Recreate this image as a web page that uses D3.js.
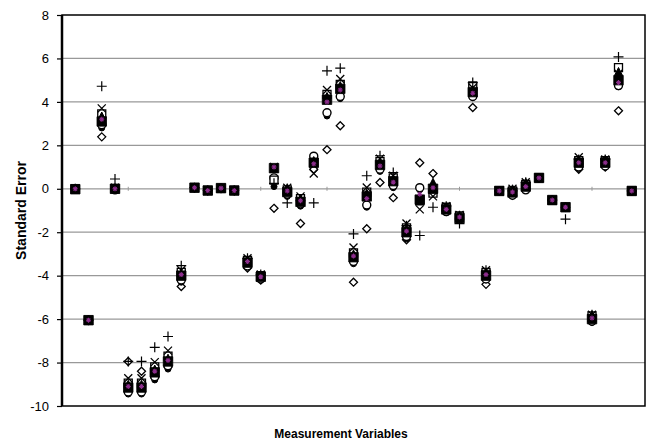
<!DOCTYPE html>
<html><head><meta charset="utf-8">
<script src="https://cdn.jsdelivr.net/npm/d3@7"></script>
<style>body{margin:0;background:#fff}svg{display:block}</style>
</head><body>
<svg id="c" width="650" height="442"></svg>
<script>
const categories = [1,2,3,4,5,6,7,8,9,10,11,12,13,14,15,16,17,18,19,20,21,22,23,24,25,26,27,28,29,30,31,32,33,34,35,36,37,38,39,40,41,42,43];
const yTicks = [-10,-8,-6,-4,-2,0,2,4,6,8];
const plusVals = [0,-6.05,4.72,0.45,-7.95,-7.95,-7.3,-6.8,-3.54,0.05,-0.08,0.03,-0.08,-3.2,-3.95,0.25,-0.65,-0.55,-0.65,5.43,5.55,-2.08,0.6,1.52,0.75,-1.7,-2.15,-0.85,-0.8,-1.6,4.89,-3.75,-0.1,-0.1,0.3,0.5,-0.52,-1.4,1.35,-5.8,1.35,6.07,-0.1];
const crossVals = [0,-6.05,3.7,0.05,-8.72,-8.72,-7.98,-7.45,-3.75,0.05,-0.08,0.03,-0.08,-3.2,-3.95,1.0,0.05,-0.35,0.7,4.55,5.05,-2.7,0.06,1.38,0.6,-1.6,-0.95,-0.35,-0.8,-1.2,4.65,-3.75,-0.1,0.0,0.3,0.5,-0.52,-0.85,1.45,-5.8,1.35,5.3,-0.1];
const openSquareVals = [0,-6.05,3.45,0.0,-8.95,-8.95,-8.2,-7.7,-3.85,0.05,-0.08,0.03,-0.08,-3.3,-4.0,0.4,-0.05,-0.45,1.2,4.35,4.8,-2.95,-0.15,1.25,0.5,-1.8,-0.55,-0.2,-0.85,-1.25,4.74,-3.85,-0.1,-0.1,0.2,0.5,-0.52,-0.85,1.3,-5.85,1.3,5.58,-0.1];
const triangleVals = [0,-6.05,3.35,0.05,-9.0,-9.0,-8.3,-7.8,-3.9,0.05,-0.08,0.03,-0.08,-3.3,-4.0,0.95,0.05,-0.45,1.3,4.25,4.75,-3.0,-0.2,1.2,0.45,-1.8,-0.5,0.3,-0.85,-1.2,4.55,-3.85,-0.1,0.0,0.3,0.5,-0.52,-0.85,1.35,-5.8,1.35,5.4,-0.1];
const magentaVals = [0,-6.05,3.2,0.0,-9.1,-9.1,-8.4,-7.9,-3.95,0.05,-0.08,0.03,-0.08,-3.35,-4.05,1.0,-0.1,-0.55,1.15,4.0,4.55,-3.1,-0.45,1.05,0.3,-1.95,-0.25,0.05,-0.95,-1.3,4.4,-3.95,-0.1,-0.15,0.1,0.5,-0.52,-0.85,1.2,-5.95,1.2,4.89,-0.1];
const filledSquareVals = [-0.02,-6.05,3.1,0.0,-9.15,-9.15,-8.45,-7.95,-4.0,0.05,-0.08,0.03,-0.08,-3.4,-4.05,0.95,-0.15,-0.6,1.2,4.1,4.6,-3.15,-0.35,1.1,0.35,-2.0,-0.5,0.0,-0.95,-1.35,4.45,-4.0,-0.1,-0.17,0.1,0.5,-0.52,-0.85,1.2,-6.0,1.2,5.0,-0.1];
const circleVals = [0,-6.05,2.95,-0.05,-9.35,-9.35,-8.65,-8.15,-4.2,0.05,-0.08,0.03,-0.08,-3.55,-4.15,0.5,-0.25,-0.7,1.5,3.5,4.25,-3.35,-0.75,0.9,0.15,-2.2,0.05,-0.1,-1.05,-1.4,4.25,-4.15,-0.1,-0.3,-0.05,0.5,-0.52,-0.85,1.0,-6.1,1.05,4.75,-0.1];
const filledCircleVals = [0,-6.05,2.8,-0.05,-9.45,-9.45,-8.8,-8.3,-4.3,0.05,-0.08,0.03,-0.08,-3.6,-4.2,0.1,-0.35,-0.8,1.4,3.35,4.15,-3.45,-0.85,0.8,0.05,-2.3,-0.05,-0.15,-1.1,-1.45,4.2,-4.2,-0.1,-0.3,-0.05,0.5,-0.52,-0.85,0.95,-6.15,1.0,4.7,-0.1];
const diamondVals = [0,-6.05,2.39,0.0,-7.95,-8.4,-8.7,-8.2,-4.5,0.05,-0.08,0.03,-0.08,-3.65,-4.2,-0.9,-0.2,-1.6,0.9,1.8,2.9,-4.3,-1.84,0.29,-0.41,-2.35,1.2,0.7,-1.0,-1.35,3.74,-4.4,-0.1,-0.3,0.0,0.5,-0.52,-0.85,0.9,-6.1,1.0,3.59,-0.1];

// custom symbol shapes (size = side length in px)
const shapes = {
  plus:{draw(p,s){const r=s/2;p.moveTo(-r,0);p.lineTo(r,0);p.moveTo(0,-r);p.lineTo(0,r);}},
  cross:{draw(p,s){const r=s/2;p.moveTo(-r,-r);p.lineTo(r,r);p.moveTo(-r,r);p.lineTo(r,-r);}},
  square:{draw(p,s){const r=s/2;p.rect(-r,-r,s,s);}},
  triangle:{draw(p,s){const r=s/2;p.moveTo(0,-r);p.lineTo(r,r);p.lineTo(-r,r);p.closePath();}},
  diamond:{draw(p,s){const r=s/2;p.moveTo(0,-r);p.lineTo(r,0);p.lineTo(0,r);p.lineTo(-r,0);p.closePath();}},
  circle:{draw(p,s){const r=s/2;p.moveTo(r,0);p.arc(0,0,r,0,2*Math.PI);}},
  asterisk:{draw(p,s){const r=s/2;p.moveTo(-r,0);p.lineTo(r,0);p.moveTo(-r*0.7,-r*0.7);p.lineTo(r*0.7,r*0.7);p.moveTo(-r*0.7,r*0.7);p.lineTo(r*0.7,-r*0.7);p.moveTo(0,-r);p.lineTo(0,r);}}
};

const series = [
  {vals:diamondVals, shape:'diamond', size:8, fill:'#fff', stroke:'#000', sw:1.3},
  {vals:filledCircleVals, shape:'circle', size:6, fill:'#000', stroke:'#000', sw:1},
  {vals:circleVals, shape:'circle', size:8, fill:'#fff', stroke:'#000', sw:1.4},
  {vals:openSquareVals, shape:'square', size:8, fill:'#fff', stroke:'#000', sw:1.3},
  {vals:triangleVals, shape:'triangle', size:8, fill:'#000', stroke:'#000', sw:1},
  {vals:filledSquareVals, shape:'square', size:9.5, fill:'#000', stroke:'#000', sw:0.8},
  {vals:crossVals, shape:'cross', size:8, fill:'none', stroke:'#000', sw:1.3},
  {vals:plusVals, shape:'plus', size:10, fill:'none', stroke:'#000', sw:1.2},
  {vals:magentaVals, shape:'asterisk', size:5, fill:'none', stroke:'#8c2d8c', sw:1.1}
];

const svg = d3.select('#c');
const L=62, R=645, T=15, B=406;
const x = d3.scaleLinear().domain([0,44]).range([L,R]);
const y = d3.scaleLinear().domain([-10,8]).range([B,T]);

// gridlines
svg.append('g').selectAll('line').data(yTicks.filter(v=>v>-10&&v<8)).join('line')
  .attr('x1',L).attr('x2',R).attr('y1',d=>y(d)).attr('y2',d=>y(d))
  .attr('stroke','#999').attr('stroke-width',1.3);

// small ticks on zero line every 5 units
svg.append('g').selectAll('line').data(d3.range(5,44,5)).join('line')
  .attr('x1',d=>x(d)).attr('x2',d=>x(d)).attr('y1',y(0)-2).attr('y2',y(0)+2)
  .attr('stroke','#999').attr('stroke-width',1);

// plot border
svg.append('rect').attr('x',L).attr('y',T).attr('width',R-L).attr('height',B-T)
  .attr('fill','none').attr('stroke','#000').attr('stroke-width',1.5);
svg.append('line').attr('x1',L).attr('x2',L).attr('y1',T).attr('y2',B).attr('stroke','#000').attr('stroke-width',2.5);

// y axis
const yAxis = d3.axisLeft(y).tickValues(yTicks).tickSize(5).tickPadding(8).tickFormat(d3.format('d'));
const ga = svg.append('g').attr('transform',`translate(${L},0)`).call(yAxis);
ga.select('.domain').remove();
ga.selectAll('line').attr('stroke','#000').attr('stroke-width',1.2);
ga.selectAll('text').attr('font-family','Liberation Sans, Arial, sans-serif').attr('font-size',13).attr('fill','#000').text(d=>String(d));

// markers
series.forEach(s=>{
  const sym = d3.symbol().type(shapes[s.shape]).size(s.size);
  svg.append('g').selectAll('path').data(categories.map((c,i)=>[c,s.vals[i]])).join('path')
    .attr('transform',d=>`translate(${x(d[0])},${y(d[1])})`)
    .attr('d',sym)
    .attr('fill',s.fill).attr('stroke',s.stroke).attr('stroke-width',s.sw);
});

// titles
svg.append('text').attr('transform',`translate(26,${(T+B)/2}) rotate(-90)`)
  .attr('text-anchor','middle').attr('font-family','Liberation Sans, Arial, sans-serif')
  .attr('font-weight','bold').attr('font-size',14).text('Standard Error');
svg.append('text').attr('x',341).attr('y',438).attr('text-anchor','middle')
  .attr('font-family','Liberation Sans, Arial, sans-serif')
  .attr('font-weight','bold').attr('font-size',12).text('Measurement Variables');
</script>
</body></html>
